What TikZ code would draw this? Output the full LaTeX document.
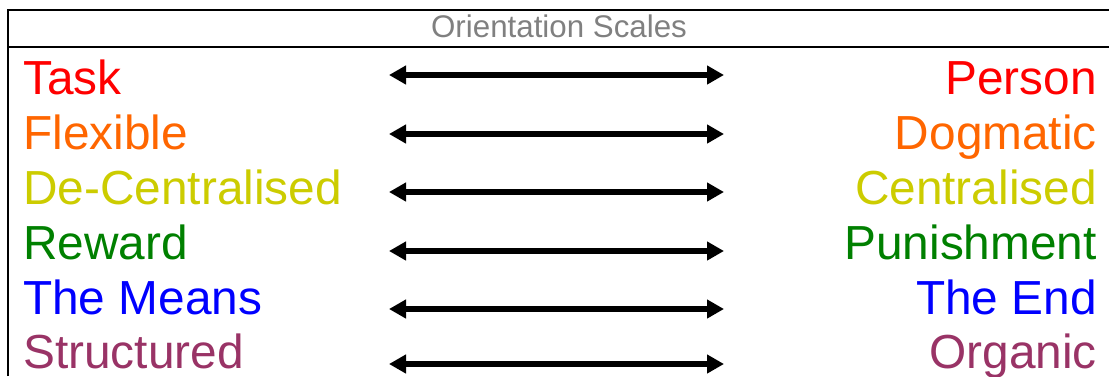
\documentclass[tikz,border=0pt]{standalone}
\usepackage{fontspec}
\setmainfont{Liberation Sans}
\usetikzlibrary{arrows.meta}
\definecolor{cRed}{RGB}{255,0,0}
\definecolor{cOrange}{RGB}{255,102,0}
\definecolor{cYellow}{RGB}{204,204,0}
\definecolor{cGreen}{RGB}{0,128,0}
\definecolor{cBlue}{RGB}{0,0,255}
\definecolor{cPurple}{RGB}{153,51,102}
\definecolor{cGray}{RGB}{128,128,128}
\tikzset{
  frameline/.style={line width=2.2pt, black},
  lefttext/.style={anchor=base west, inner sep=0pt, font=\fontsize{47.8}{55}\selectfont},
  righttext/.style={anchor=base east, inner sep=0pt, font=\fontsize{47.8}{55}\selectfont},
  titletext/.style={anchor=base, inner sep=0pt, text=cGray, font=\fontsize{31.3}{35}\selectfont},
  scalearrow/.style={line width=5.5pt, {Triangle[length=17pt,width=18pt]}-{Triangle[length=17pt,width=18pt]}}
}
\begin{document}
\begin{tikzpicture}[x=1pt,y=1pt]
\useasboundingbox (0,0) rectangle (1109,-376);
% frame
\draw[frameline] (8,-376) -- (8,-10) -- (1109,-10);
\draw[frameline] (8,-47) -- (1109,-47);
\node[titletext] (title) at (559,-37.5) {Orientation Scales};
% rows
\foreach \i/\l/\r/\c/\yb/\ya in {
  1/Task/Person/cRed/94/75,
  2/Flexible/Dogmatic/cOrange/149/134,
  3/De-Centralised/Centralised/cYellow/204/192,
  4/Reward/Punishment/cGreen/259/251,
  5/The Means/The End/cBlue/314/309,
  6/Structured/Organic/cPurple/368/364}{
  \node[lefttext, text=\c] (L\i) at (23,-\yb) {\l};
  \node[righttext, text=\c] (R\i) at (1097,-\yb) {\r};
  \coordinate (aL\i) at (389,-\ya);
  \coordinate (aR\i) at (724,-\ya);
  \draw[scalearrow] (aL\i) -- (aR\i);
}
\end{tikzpicture}
\end{document}
